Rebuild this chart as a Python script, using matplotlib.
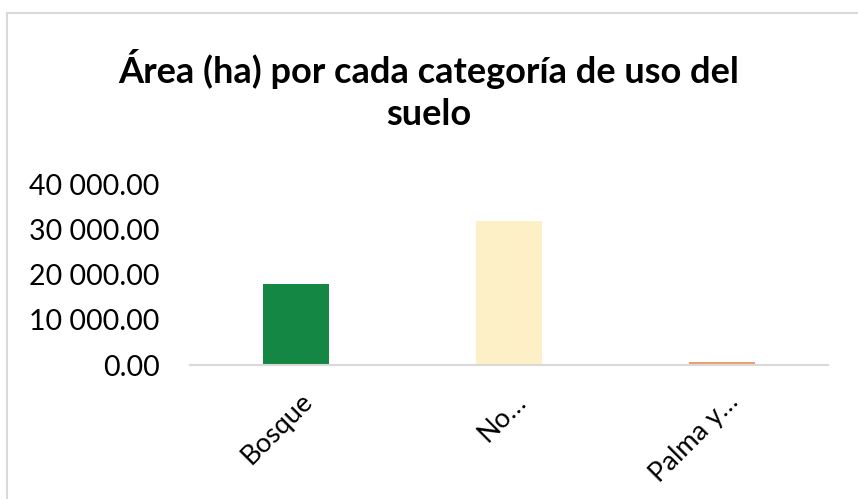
import matplotlib
matplotlib.use("Agg")
import matplotlib.pyplot as plt
from matplotlib.patches import Rectangle
from matplotlib.ticker import FuncFormatter
from matplotlib.transforms import ScaledTranslation

categories = ["Bosque", "No…", "Palma y…"]
areas = [18000, 32000, 700]
bar_colors = ["#138743", "#FDEFC6", "#EE9E6E"]
yticks = [0, 10000, 20000, 30000, 40000]

plt.rcParams["font.family"] = ["Lato", "DejaVu Sans"]

fig = plt.figure(figsize=(8.58, 4.99), dpi=100)
fig.patch.set_facecolor("white")

# chart frame (light gray border)
fig.patches.append(Rectangle((7 / 858, -0.05), 1.2, (499 - 13) / 499 + 0.05,
                             transform=fig.transFigure, fill=False,
                             edgecolor="#D9D9D9", linewidth=1.5))

ax = fig.add_axes([190 / 858, 1 - 365 / 499, 638 / 858, 180 / 499])
x = list(range(len(categories)))
ax.bar(x, areas, width=0.31, color=bar_colors)
ax.set_xlim(-0.5, len(categories) - 0.5)
ax.set_ylim(0, 40000)
ax.set_yticks(yticks)
ax.yaxis.set_major_formatter(FuncFormatter(lambda v, p: f"{v:,.2f}".replace(",", " ")))
ax.set_xticks(x)
ax.set_xticklabels(categories, rotation=45, ha="right", va="top",
                   rotation_mode="anchor")

for s in ["top", "right", "left"]:
    ax.spines[s].set_visible(False)
ax.spines["bottom"].set_color("#D9D9D9")
ax.spines["bottom"].set_linewidth(1.5)
ax.tick_params(axis="both", length=0)
ax.tick_params(axis="y", labelsize=20.5, pad=22)
ax.tick_params(axis="x", labelsize=19.5, pad=17)

shift = ScaledTranslation(4 / 100, 0, fig.dpi_scale_trans)
for lbl in ax.get_xticklabels():
    lbl.set_transform(lbl.get_transform() + shift)

fig.text(0.5, 1 - 90 / 499, "Área (ha) por cada categoría de uso del\nsuelo",
         ha="center", va="center", fontsize=26, fontweight="bold",
         linespacing=1.35)

fig.savefig("out.png", dpi=100)
